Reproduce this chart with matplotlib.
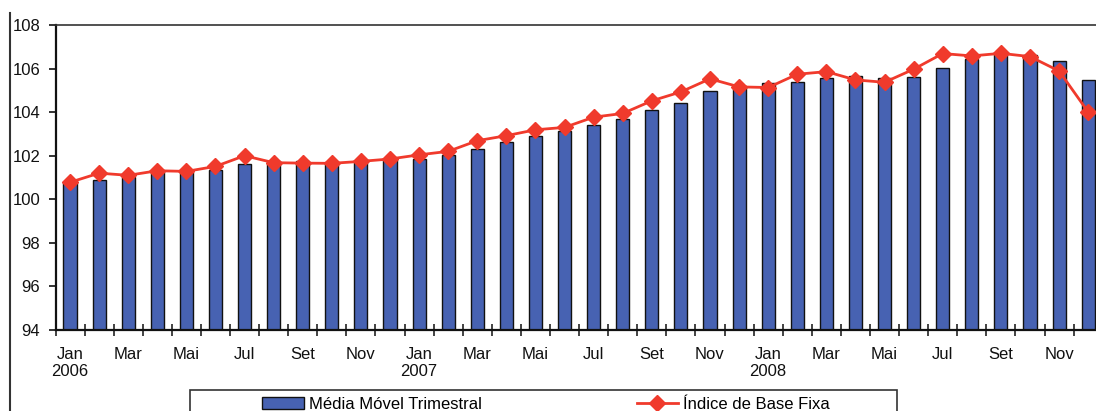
import matplotlib
matplotlib.use("Agg")
import matplotlib.pyplot as plt
from matplotlib.lines import Line2D
from matplotlib.patches import Rectangle
import numpy as np

months = ["Jan", "Fev", "Mar", "Abr", "Mai", "Jun", "Jul", "Ago", "Set", "Out", "Nov", "Dez"] * 3
years = ["2006", "2007", "2008"]

media_movel = [100.80, 100.88, 101.02, 101.25, 101.25, 101.36, 101.63, 101.74, 101.77, 101.71, 101.70, 101.82,
               101.86, 102.03, 102.29, 102.61, 102.92, 103.13, 103.43, 103.69, 104.09, 104.44, 104.99, 105.22,
               105.33, 105.37, 105.59, 105.68, 105.59, 105.63, 106.01, 106.43, 106.66, 106.64, 106.37, 105.48]

indice_base = [100.78, 101.20, 101.10, 101.31, 101.28, 101.51, 102.00, 101.68, 101.66, 101.65, 101.74, 101.85,
               102.04, 102.20, 102.69, 102.92, 103.19, 103.30, 103.77, 103.94, 104.52, 104.93, 105.53, 105.16,
               105.13, 105.74, 105.86, 105.48, 105.37, 105.97, 106.69, 106.58, 106.70, 106.55, 105.89, 104.01]

W, H = 1096, 411
fig = plt.figure(figsize=(W / 100, H / 100), dpi=100)
plt.rcParams['font.family'] = ['Liberation Sans', 'DejaVu Sans']

ax_left, ax_right, ax_top, ax_bot = 55.5, 1102.7, 25, 330
ax = fig.add_axes([ax_left / W, 1 - ax_bot / H, (ax_right - ax_left) / W, (ax_bot - ax_top) / H])

x = np.arange(len(media_movel))
bars = ax.bar(x, [v - 94 for v in media_movel], bottom=94, width=0.45, color="#4762B2",
              edgecolor="#111111", linewidth=1.0, zorder=2, label="Média Móvel Trimestral")
line, = ax.plot(x, indice_base, color="#F03A2C", linewidth=2.0, marker="D", markersize=8,
                markerfacecolor="#F03A2C", markeredgecolor="#F03A2C", zorder=3, label="Índice de Base Fixa")

ax.set_xlim(-0.5, len(x) - 0.5)
ax.set_ylim(94, 108)
ax.set_yticks(np.arange(94, 109, 2))
ax.tick_params(axis="y", direction="out", length=5, width=1.2, labelsize=12, pad=6, colors="#111111")

labels = []
for i, m in enumerate(months):
    if i % 2 == 0:
        if i % 12 == 0:
            labels.append(m + "\n" + years[i // 12])
        else:
            labels.append(m)
    else:
        labels.append("")
ax.set_xticks(x)
ax.set_xticklabels(labels, fontsize=12, color="#111111", linespacing=1.2)
ax.tick_params(axis="x", which="major", length=0, pad=12)
ax.set_xticks(np.arange(-0.5, len(x), 1), minor=True)
ax.tick_params(axis="x", which="minor", direction="inout", length=8, width=1.2, color="#222222")

for s in ["left", "bottom", "top"]:
    ax.spines[s].set_linewidth(1.6)
    ax.spines[s].set_color("#111111")
ax.spines["top"].set_linewidth(1.2)
ax.spines["top"].set_color("#333333")
ax.spines["right"].set_visible(False)

# outer chart border on the left
fig.add_artist(Line2D([10 / W, 10 / W], [0, 1 - 13 / H], transform=fig.transFigure,
                      color="#333333", linewidth=1.5))

# legend frame
fig.add_artist(Rectangle((190 / W, -0.05), (897 - 190) / W, 0.05 + (1 - 390 / H),
                         transform=fig.transFigure, fill=False, edgecolor="#333333", linewidth=1.2))
leg = fig.legend([bars, line], ["Média Móvel Trimestral", "Índice de Base Fixa"],
                 loc="center left", bbox_to_anchor=(262 / W, 1 - 404 / H), ncol=2,
                 frameon=False, fontsize=12, handlelength=2.5, handletextpad=0.3,
                 columnspacing=9.3, borderpad=0, borderaxespad=0)

fig.savefig("out.png", dpi=100)
